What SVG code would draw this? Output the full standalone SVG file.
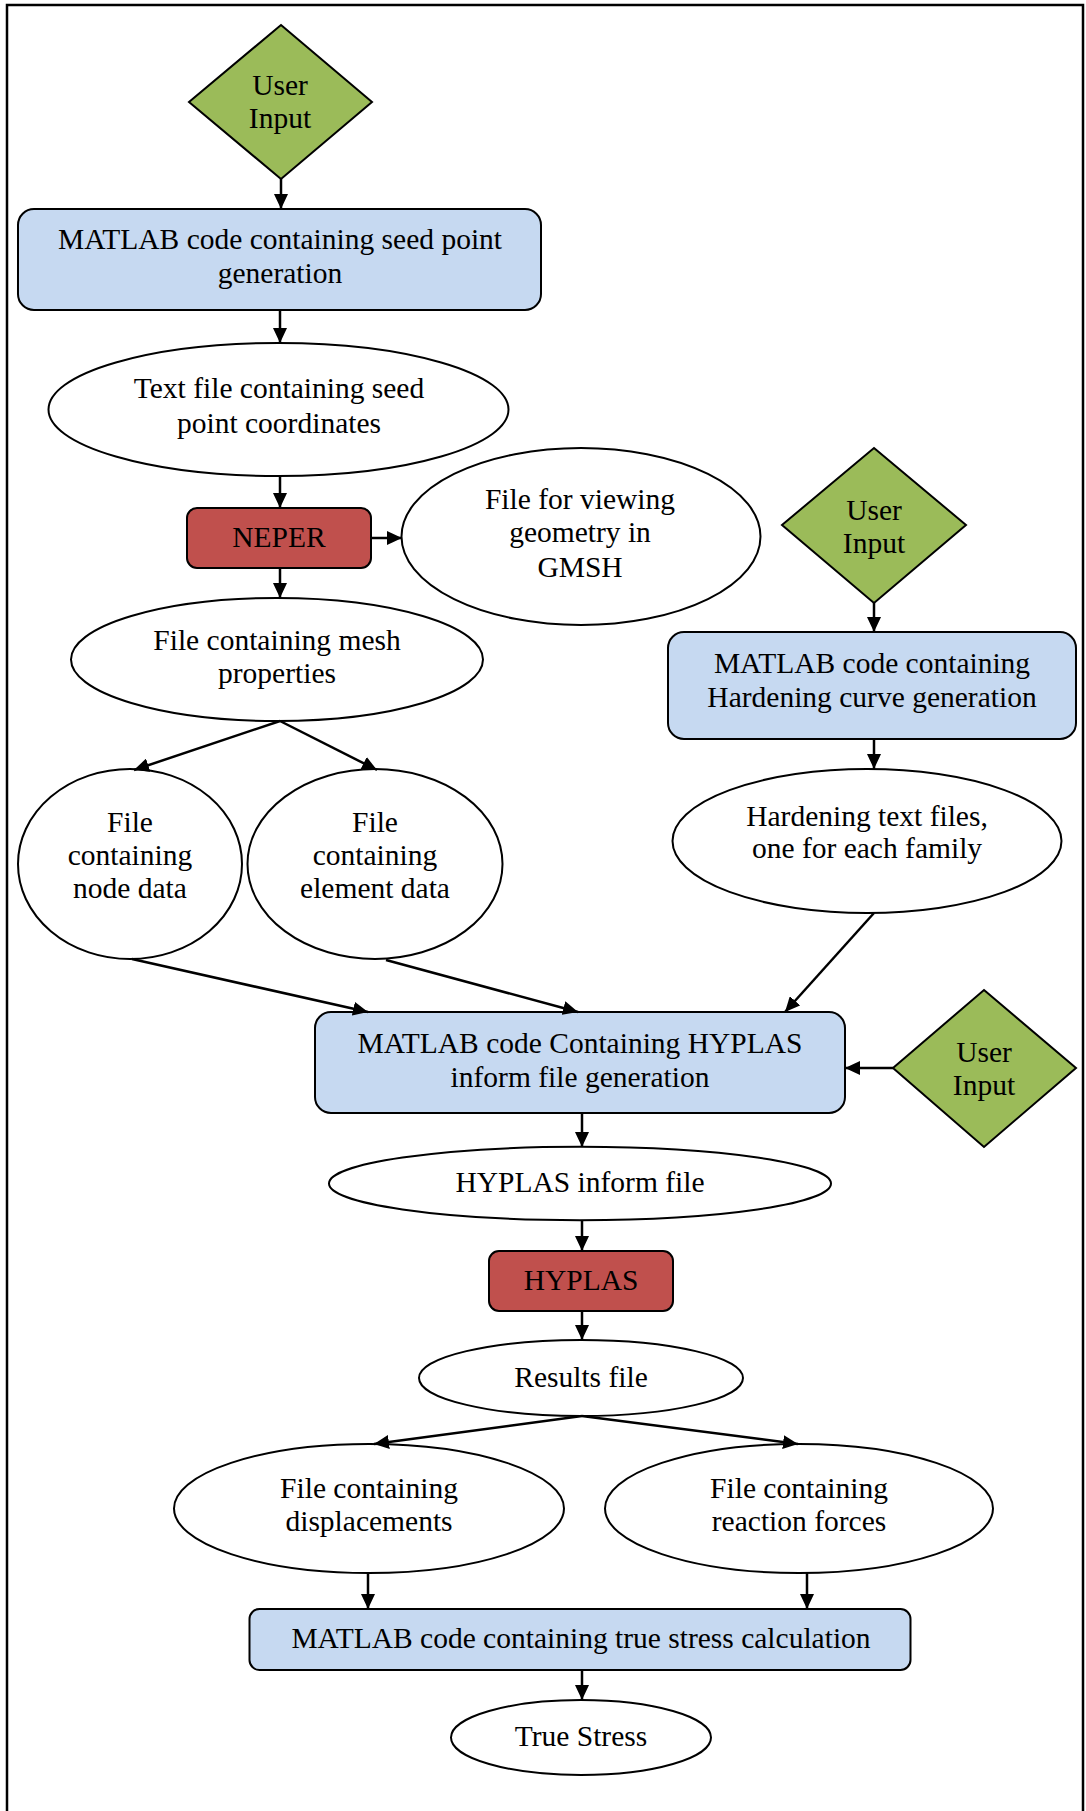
<svg xmlns="http://www.w3.org/2000/svg" width="1086" height="1811" viewBox="0 0 1086 1811">
<defs>
<marker id="ah" markerUnits="userSpaceOnUse" viewBox="0 0 15 14" refX="15" refY="7" markerWidth="15" markerHeight="14" orient="auto">
<path d="M0,0 L15,7 L0,14 z" fill="#000"/>
</marker>
<style>
text{font-family:"Liberation Serif","Times New Roman",serif;font-size:29.5px;fill:#000;text-anchor:middle}
.ell{fill:#fff;stroke:#000;stroke-width:2}
.box{fill:#C6D9F1;stroke:#000;stroke-width:2}
.red{fill:#C0504D;stroke:#000;stroke-width:2}
.dia{fill:#9BBB59;stroke:#000;stroke-width:2}
.con line{stroke:#000;stroke-width:2.5;marker-end:url(#ah)}
</style>
</defs>
<rect width="1086" height="1811" fill="#fff"/>
<path d="M7,1815 V5 H1083 V1815" fill="none" stroke="#000" stroke-width="2.5"/>

<g id="user-input-1">
<polygon class="dia" points="281,25 372,102 281,179 189,102"/>
<text x="280" y="95">User</text>
<text x="280" y="128">Input</text>
</g>
<g id="matlab-seed">
<rect class="box" x="18" y="209" width="523" height="101" rx="16"/>
<text x="280" y="249">MATLAB code containing seed point</text>
<text x="280" y="283">generation</text>
</g>
<g id="seed-coords">
<ellipse class="ell" cx="278.5" cy="409.5" rx="230" ry="66.5"/>
<text x="279" y="398">Text file containing seed</text>
<text x="279" y="433">point coordinates</text>
</g>
<g id="neper">
<rect class="red" x="187" y="508" width="184" height="60" rx="10"/>
<text x="279" y="547">NEPER</text>
</g>
<g id="gmsh-file">
<ellipse class="ell" cx="581" cy="536.5" rx="179.5" ry="88.5"/>
<text x="580" y="509">File for viewing</text>
<text x="580" y="542">geometry in</text>
<text x="580" y="577">GMSH</text>
</g>
<g id="mesh-file">
<ellipse class="ell" cx="277" cy="659.5" rx="206" ry="61.5"/>
<text x="277" y="650">File containing mesh</text>
<text x="277" y="683">properties</text>
</g>
<g id="node-data">
<ellipse class="ell" cx="130" cy="864" rx="112" ry="95"/>
<text x="130" y="832">File</text>
<text x="130" y="865">containing</text>
<text x="130" y="898">node data</text>
</g>
<g id="element-data">
<ellipse class="ell" cx="375" cy="864" rx="127.5" ry="95"/>
<text x="375" y="832">File</text>
<text x="375" y="865">containing</text>
<text x="375" y="898">element data</text>
</g>
<g id="user-input-2">
<polygon class="dia" points="874,448 966,525 874,603 782,525"/>
<text x="874" y="520">User</text>
<text x="874" y="553">Input</text>
</g>
<g id="matlab-hardening">
<rect class="box" x="668" y="632" width="408" height="107" rx="16"/>
<text x="872" y="673">MATLAB code containing</text>
<text x="872" y="707">Hardening curve generation</text>
</g>
<g id="hardening-files">
<ellipse class="ell" cx="867" cy="841" rx="194.5" ry="72"/>
<text x="867" y="826">Hardening text files,</text>
<text x="867" y="858">one for each family</text>
</g>
<g id="matlab-hyplas">
<rect class="box" x="315" y="1012" width="530" height="101" rx="16"/>
<text x="580" y="1053">MATLAB code Containing HYPLAS</text>
<text x="580" y="1087">inform file generation</text>
</g>
<g id="user-input-3">
<polygon class="dia" points="984,990 1076,1068 984,1147 893,1068"/>
<text x="984" y="1062">User</text>
<text x="984" y="1095">Input</text>
</g>
<g id="inform-file">
<ellipse class="ell" cx="580" cy="1183.5" rx="251" ry="36.7"/>
<text x="580" y="1192">HYPLAS inform file</text>
</g>
<g id="hyplas">
<rect class="red" x="489" y="1251" width="184" height="60" rx="10"/>
<text x="581" y="1290">HYPLAS</text>
</g>
<g id="results-file">
<ellipse class="ell" cx="581" cy="1378" rx="162" ry="38"/>
<text x="581" y="1387">Results file</text>
</g>
<g id="displacements">
<ellipse class="ell" cx="369" cy="1508.5" rx="195" ry="64.5"/>
<text x="369" y="1498">File containing</text>
<text x="369" y="1531">displacements</text>
</g>
<g id="reaction-forces">
<ellipse class="ell" cx="799" cy="1508.5" rx="194" ry="64.5"/>
<text x="799" y="1498">File containing</text>
<text x="799" y="1531">reaction forces</text>
</g>
<g id="matlab-true-stress">
<rect class="box" x="249.5" y="1609" width="661" height="61" rx="10"/>
<text x="581" y="1648">MATLAB code containing true stress calculation</text>
</g>
<g id="true-stress">
<ellipse class="ell" cx="581" cy="1737.5" rx="130" ry="37.5"/>
<text x="581" y="1746">True Stress</text>
</g>

<g id="connectors" class="con">
<line x1="281" y1="179" x2="281" y2="209"/>
<line x1="280" y1="310" x2="280" y2="343"/>
<line x1="280" y1="476" x2="280" y2="508"/>
<line x1="372" y1="538" x2="402" y2="538"/>
<line x1="280" y1="568" x2="280" y2="598"/>
<line x1="280" y1="721" x2="134" y2="770"/>
<line x1="280" y1="721" x2="377" y2="770"/>
<line x1="874" y1="603" x2="874" y2="632"/>
<line x1="874" y1="739" x2="874" y2="769"/>
<line x1="132" y1="959" x2="368" y2="1012"/>
<line x1="386" y1="960" x2="578" y2="1012"/>
<line x1="874" y1="913" x2="785" y2="1012"/>
<line x1="893" y1="1068" x2="845" y2="1068"/>
<line x1="582" y1="1113" x2="582" y2="1147"/>
<line x1="582" y1="1220" x2="582" y2="1251"/>
<line x1="582" y1="1312" x2="582" y2="1340"/>
<line x1="582" y1="1416" x2="374" y2="1444"/>
<line x1="582" y1="1416" x2="798" y2="1444"/>
<line x1="368" y1="1573" x2="368" y2="1609"/>
<line x1="807" y1="1573" x2="807" y2="1609"/>
<line x1="582" y1="1670" x2="582" y2="1700"/>
</g>
</svg>
